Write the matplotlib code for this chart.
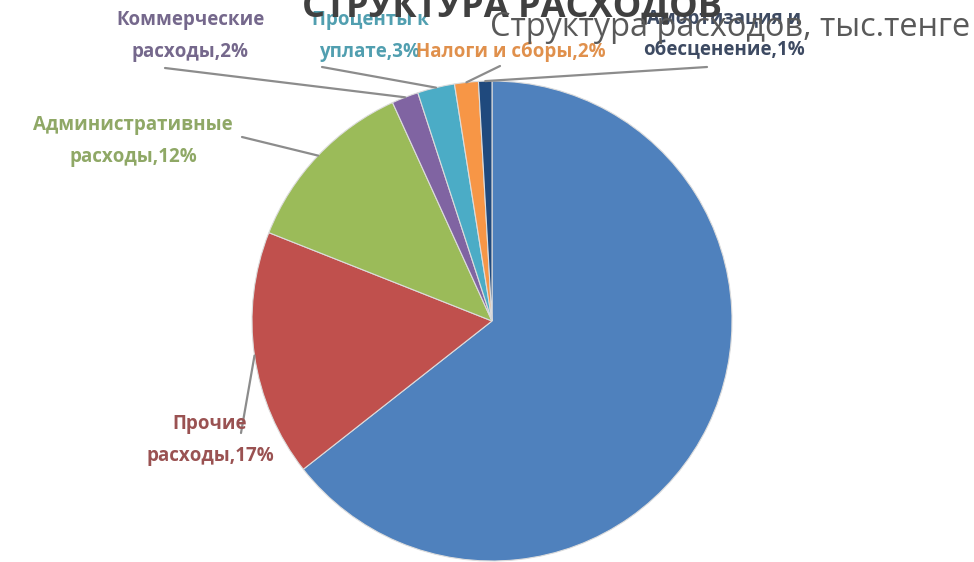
import numpy as np
import matplotlib
matplotlib.use("Agg")
import matplotlib.pyplot as plt

plt.rcParams['font.family'] = ['Open Sans', 'DejaVu Sans']

# доли расходов, % (первый сектор без подписи)
categories = ["", "Прочие\nрасходы", "Административные\nрасходы", "Коммерческие\nрасходы",
              "Проценты к\nуплате", "Налоги и сборы", "Амортизация и\nобесценение"]
values = [64.4, 16.6, 12.2, 1.8, 2.5, 1.6, 0.9]
pct_labels = ["", "17%", "12%", "2%", "3%", "2%", "1%"]
colors = ["#4f81bd", "#c0504d", "#9bbb59", "#8064a2", "#4bacc6", "#f79646", "#1f497d"]
text_colors = ["#4f81bd", "#9a5252", "#8fa866", "#75688c", "#519fb0", "#e0904c", "#3d4a62"]

W, H = 974, 562
fig = plt.figure(figsize=(W / 100, H / 100), dpi=100)
ax = fig.add_axes([0, 0, 1, 1])

cx, cy, R = 492, H - 321, 240
wedges, _ = ax.pie(values, colors=colors, startangle=90, counterclock=False,
                   center=(cx, cy), radius=R,
                   wedgeprops=dict(edgecolor="#dcdcdc", linewidth=0.8))
ax.set_xlim(0, W)
ax.set_ylim(0, H)
ax.set_aspect('auto')
ax.axis('off')

# позиции подписей (пиксели сверху) и начало выносок
label_pos = [None, (210, 440), (133, 141), (190, 36), (370, 36), (511, 52), (724, 35)]
line_start = [None, (241, 433), (242, 137), (165, 68), (322, 67), (500, 66), (707, 67)]

for i, w in enumerate(wedges):
    if label_pos[i] is None:
        continue
    ang = np.deg2rad((w.theta1 + w.theta2) / 2)
    ex, ey = cx + R * np.cos(ang), cy + R * np.sin(ang)
    sx, sy = line_start[i]
    ax.plot([sx, ex], [H - sy, ey], color="#8c8c8c", lw=1.6, solid_capstyle='round', zorder=3)
    txt = categories[i] + "," + pct_labels[i]
    lx, ly = label_pos[i]
    ax.text(lx, H - ly, txt, ha='center', va='center', fontsize=13.5, fontweight='bold',
            color=text_colors[i], linespacing=1.75, zorder=4)

fig.text(512 / W, 1 - 7 / H, "СТРУКТУРА РАСХОДОВ", ha='center', va='center',
         fontsize=26, fontweight='bold', color="#404040")
fig.text(730 / W, 1 - 27 / H, "Структура расходов, тыс.тенге", ha='center', va='center',
         fontsize=23.4, color="#595959")

fig.savefig("out.png", dpi=100)
